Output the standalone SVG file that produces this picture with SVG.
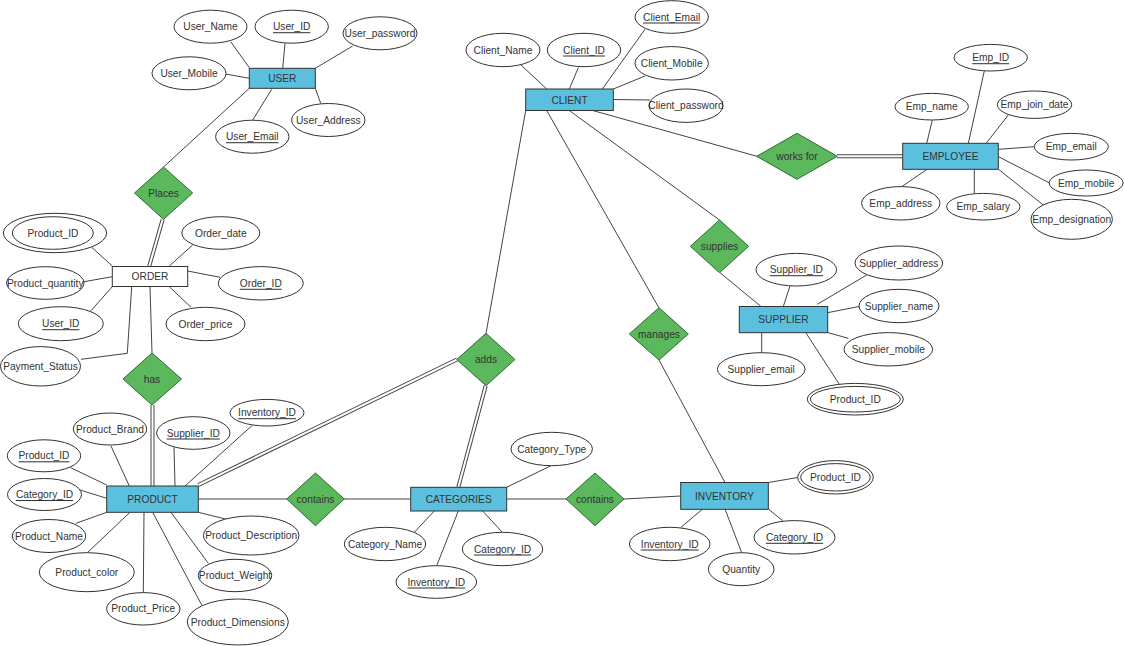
<svg xmlns="http://www.w3.org/2000/svg" width="1124" height="646" viewBox="0 0 1124 646">
<style>
text{font-family:"Liberation Sans",Arial,sans-serif;font-size:10.2px;fill:#333;text-anchor:middle;dominant-baseline:central}
.u{text-decoration:underline}
.ent{fill:#5bc0de;stroke:#333;stroke-width:1}
.wk{fill:#fff;stroke:#333;stroke-width:1}
.rel{fill:#5cb85c;stroke:#2f6b2f;stroke-width:1}
.att{fill:#fff;stroke:#333;stroke-width:1}
.ln{stroke:#444;stroke-width:1;fill:none}
.dbo{stroke:#444;stroke-width:4;fill:none}
.dbi{stroke:#fff;stroke-width:2;fill:none}
</style>
<rect width="1124" height="646" fill="#fff"/>
<g id="connectors">
<!-- USER -->
<line class="ln" x1="230.7" y1="41.7" x2="249.3" y2="67.7"/>
<line class="ln" x1="285" y1="43.3" x2="282.7" y2="68.3"/>
<line class="ln" x1="352.7" y1="46" x2="315.3" y2="68.3"/>
<line class="ln" x1="225.7" y1="74" x2="249.3" y2="78.3"/>
<line class="ln" x1="320.7" y1="103.3" x2="315.3" y2="88.3"/>
<line class="ln" x1="252.7" y1="120" x2="271.7" y2="89.3"/>
<line class="ln" x1="249.3" y1="88.3" x2="163.5" y2="167"/>
<!-- ORDER -->
<line class="dbo" x1="162.7" y1="219.3" x2="149.3" y2="266"/>
<line class="dbi" x1="162.7" y1="219.3" x2="149.3" y2="266"/>
<line class="ln" x1="91.7" y1="247.3" x2="112.3" y2="266"/>
<line class="ln" x1="192.7" y1="245" x2="169.3" y2="266"/>
<line class="ln" x1="187.7" y1="271" x2="220" y2="277.3"/>
<line class="ln" x1="84" y1="281.7" x2="112.3" y2="276.7"/>
<line class="ln" x1="90.7" y1="311" x2="112.3" y2="286.7"/>
<line class="ln" x1="169.3" y1="286.7" x2="191" y2="307.3"/>
<polyline class="ln" points="81,359.3 127.3,353.3 131.7,286.7"/>
<line class="ln" x1="150" y1="286.7" x2="152" y2="353"/>
<!-- PRODUCT -->
<line class="dbo" x1="152.5" y1="405" x2="152.5" y2="486"/>
<line class="dbi" x1="152.5" y1="405" x2="152.5" y2="486"/>
<line class="ln" x1="111" y1="446" x2="129.3" y2="486"/>
<line class="ln" x1="70.7" y1="467.7" x2="106.7" y2="485"/>
<line class="ln" x1="80" y1="490" x2="106.7" y2="498.3"/>
<line class="ln" x1="76" y1="523.3" x2="106.7" y2="512.3"/>
<line class="ln" x1="87.3" y1="552.7" x2="130" y2="512.3"/>
<line class="ln" x1="143.3" y1="592.7" x2="144" y2="512.3"/>
<line class="ln" x1="201.7" y1="605" x2="152.7" y2="512.3"/>
<line class="ln" x1="208.3" y1="563.3" x2="171" y2="512.3"/>
<line class="ln" x1="226.7" y1="519.3" x2="198.3" y2="512.3"/>
<line class="ln" x1="174" y1="447.3" x2="175" y2="486"/>
<line class="ln" x1="252.3" y1="425.3" x2="185" y2="486"/>
<line class="dbo" x1="198.3" y1="485" x2="457" y2="359.5"/>
<line class="dbi" x1="198.3" y1="485" x2="457" y2="359.5"/>
<line class="ln" x1="198.5" y1="499" x2="287" y2="499"/>
<!-- CATEGORIES -->
<line class="ln" x1="344" y1="499" x2="411" y2="499"/>
<line class="dbo" x1="485.7" y1="385.7" x2="458.3" y2="487.3"/>
<line class="dbi" x1="485.7" y1="385.7" x2="458.3" y2="487.3"/>
<line class="ln" x1="551" y1="465.7" x2="506.7" y2="487.3"/>
<line class="ln" x1="414.3" y1="532.3" x2="434.3" y2="511"/>
<line class="ln" x1="436.7" y1="565.7" x2="458.3" y2="511"/>
<line class="ln" x1="502.3" y1="532.3" x2="482.7" y2="511"/>
<line class="ln" x1="507" y1="499" x2="566" y2="499"/>
<!-- INVENTORY -->
<line class="ln" x1="624" y1="499" x2="681" y2="496"/>
<line class="ln" x1="768.3" y1="482.5" x2="799" y2="477.3"/>
<line class="ln" x1="681" y1="527.3" x2="702.7" y2="509"/>
<line class="ln" x1="741.7" y1="552.7" x2="725" y2="509"/>
<line class="ln" x1="782.7" y1="520.7" x2="768.3" y2="509"/>
<line class="ln" x1="725" y1="482.5" x2="659" y2="360"/>
<!-- CLIENT -->
<line class="ln" x1="521" y1="65" x2="546.7" y2="89"/>
<line class="ln" x1="578.3" y1="67.7" x2="569.3" y2="89"/>
<line class="ln" x1="645" y1="29.3" x2="602.3" y2="89"/>
<line class="ln" x1="645" y1="76" x2="613.3" y2="89"/>
<line class="ln" x1="613.3" y1="99.5" x2="650" y2="100"/>
<line class="ln" x1="525.7" y1="110.5" x2="486" y2="333.5"/>
<line class="ln" x1="546.7" y1="110.5" x2="659" y2="308"/>
<line class="ln" x1="569.3" y1="110.5" x2="719.5" y2="220"/>
<line class="ln" x1="592.7" y1="110.5" x2="757" y2="156.3"/>
<!-- EMPLOYEE -->
<line class="dbo" x1="837" y1="156.3" x2="903" y2="156.3"/>
<line class="dbi" x1="837" y1="156.3" x2="903" y2="156.3"/>
<line class="ln" x1="984.3" y1="71" x2="968.3" y2="143.5"/>
<line class="ln" x1="932.3" y1="120" x2="926.7" y2="143.5"/>
<line class="ln" x1="1008.3" y1="115" x2="986" y2="143.5"/>
<line class="ln" x1="998.5" y1="149.3" x2="1034.3" y2="146.7"/>
<line class="ln" x1="998.5" y1="156.7" x2="1049" y2="182.7"/>
<line class="ln" x1="998.5" y1="169.3" x2="1043.3" y2="205"/>
<line class="ln" x1="974.3" y1="193.3" x2="974.3" y2="169.5"/>
<line class="ln" x1="901.7" y1="186.7" x2="926.7" y2="169.5"/>
<!-- SUPPLIER -->
<line class="ln" x1="720" y1="272.7" x2="761" y2="306.5"/>
<line class="ln" x1="790" y1="286" x2="783.3" y2="306.5"/>
<line class="ln" x1="866.7" y1="275" x2="817.3" y2="304.3"/>
<line class="ln" x1="827.5" y1="312.7" x2="859" y2="306.5"/>
<line class="ln" x1="827.5" y1="332.5" x2="848.3" y2="338.3"/>
<line class="ln" x1="761.7" y1="352.7" x2="761.7" y2="332.5"/>
<line class="ln" x1="805.7" y1="332.5" x2="839.3" y2="384.3"/>
</g>
<g id="user">
<rect class="ent" x="249.3" y="68.3" width="66" height="20"/>
<text x="282.3" y="78.3">USER</text>
</g>
<g id="user_name"><ellipse class="att" cx="210.5" cy="26.7" rx="36.5" ry="16.5"/><text x="210.5" y="26.7">User_Name</text></g>
<g id="user_id"><ellipse class="att" cx="291.7" cy="26.7" rx="36.7" ry="16.5"/><text class="u" x="291.7" y="26.7">User_ID</text></g>
<g id="user_password"><ellipse class="att" cx="380" cy="33.3" rx="37" ry="16.5"/><text x="380" y="33.3">User_password</text></g>
<g id="user_mobile"><ellipse class="att" cx="189" cy="73.3" rx="37" ry="16.5"/><text x="189" y="73.3">User_Mobile</text></g>
<g id="user_address"><ellipse class="att" cx="328.3" cy="120" rx="36.7" ry="16.5"/><text x="328.3" y="120">User_Address</text></g>
<g id="user_email"><ellipse class="att" cx="252.3" cy="136.7" rx="36.7" ry="16.5"/><text class="u" x="252.3" y="136.7">User_Email</text></g>
<g id="places"><polygon class="rel" points="163.5,167 192.7,193 163.5,219.3 134.5,193"/><text x="163.5" y="193">Places</text></g>
<g id="order">
<rect class="wk" x="112.3" y="266.5" width="75.4" height="20"/>
<text x="150" y="276.5">ORDER</text>
</g>
<g id="order_product_id"><ellipse class="att" cx="55" cy="233" rx="51.7" ry="19.7"/><ellipse class="att" cx="52.8" cy="233" rx="40.5" ry="16.3"/><text x="53" y="233">Product_ID</text></g>
<g id="order_date"><ellipse class="att" cx="220.8" cy="233" rx="39" ry="16.3"/><text x="220.8" y="233">Order_date</text></g>
<g id="order_id"><ellipse class="att" cx="260.8" cy="283.3" rx="42.5" ry="16.7"/><text class="u" x="260.8" y="283.3">Order_ID</text></g>
<g id="order_price"><ellipse class="att" cx="205.5" cy="324" rx="39.5" ry="16.7"/><text x="205.5" y="324">Order_price</text></g>
<g id="product_quantity"><ellipse class="att" cx="45.3" cy="283" rx="38.7" ry="16.3"/><text x="45.3" y="283">Product_quantity</text></g>
<g id="order_user_id"><ellipse class="att" cx="60.8" cy="323.7" rx="42.5" ry="17"/><text class="u" x="60.8" y="323.7">User_ID</text></g>
<g id="payment_status"><ellipse class="att" cx="40.5" cy="366.3" rx="40" ry="19.7"/><text x="40.5" y="366.3">Payment_Status</text></g>
<g id="has"><polygon class="rel" points="152,353 181.5,379 152,405 123,379"/><text x="152" y="379">has</text></g>
<g id="product">
<rect class="ent" x="106.7" y="486" width="91.6" height="26.3"/>
<text x="152.5" y="499">PRODUCT</text>
</g>
<g id="product_brand"><ellipse class="att" cx="110" cy="429" rx="36.7" ry="16"/><text x="110" y="429">Product_Brand</text></g>
<g id="product_id"><ellipse class="att" cx="44" cy="455.8" rx="36.7" ry="16"/><text class="u" x="44" y="455.8">Product_ID</text></g>
<g id="product_category_id"><ellipse class="att" cx="44.5" cy="494.5" rx="37" ry="16"/><text class="u" x="44.5" y="494.5">Category_ID</text></g>
<g id="product_name"><ellipse class="att" cx="49" cy="536" rx="36.7" ry="16.5"/><text x="49" y="536">Product_Name</text></g>
<g id="product_color"><ellipse class="att" cx="86.8" cy="572.2" rx="47.5" ry="19.5"/><text x="86.8" y="572.2">Product_color</text></g>
<g id="product_price"><ellipse class="att" cx="143.3" cy="608.8" rx="36.7" ry="16.2"/><text x="143.3" y="608.8">Product_Price</text></g>
<g id="product_dimensions"><ellipse class="att" cx="237.8" cy="622" rx="50.5" ry="23"/><text x="237.8" y="622">Product_Dimensions</text></g>
<g id="product_weight"><ellipse class="att" cx="235" cy="575.5" rx="36.7" ry="16.2"/><text x="235" y="575.5">Product_Weight</text></g>
<g id="product_description"><ellipse class="att" cx="251.2" cy="535.5" rx="47.8" ry="19.5"/><text x="251.2" y="535.5">Product_Description</text></g>
<g id="product_supplier_id"><ellipse class="att" cx="193.3" cy="433" rx="36.7" ry="16.3"/><text class="u" x="193.3" y="433">Supplier_ID</text></g>
<g id="product_inventory_id"><ellipse class="att" cx="267" cy="412.7" rx="37" ry="13.3"/><text class="u" x="267" y="412.7">Inventory_ID</text></g>
<g id="contains1"><polygon class="rel" points="315.5,473 344.3,499 315.5,525.7 286.7,499"/><text x="315.5" y="499">contains</text></g>
<g id="adds"><polygon class="rel" points="486,333.3 515,359.5 486,385.7 456.7,359.5"/><text x="486" y="359.5">adds</text></g>
<g id="categories">
<rect class="ent" x="410.7" y="487.3" width="96" height="23.7"/>
<text x="458.7" y="499">CATEGORIES</text>
</g>
<g id="category_type"><ellipse class="att" cx="551.7" cy="449" rx="40.7" ry="16.7"/><text x="551.7" y="449">Category_Type</text></g>
<g id="category_name"><ellipse class="att" cx="385" cy="544" rx="40.7" ry="16.7"/><text x="385" y="544">Category_Name</text></g>
<g id="categories_inventory_id"><ellipse class="att" cx="436.3" cy="582" rx="40.3" ry="16.3"/><text class="u" x="436.3" y="582">Inventory_ID</text></g>
<g id="category_id"><ellipse class="att" cx="502.5" cy="549" rx="40.2" ry="16.7"/><text class="u" x="502.5" y="549">Category_ID</text></g>
<g id="contains2"><polygon class="rel" points="595,473 624,499 595,525.7 566,499"/><text x="595" y="499">contains</text></g>
<g id="inventory">
<rect class="ent" x="680.7" y="482.5" width="87.6" height="26.8"/>
<text x="724.5" y="496">INVENTORY</text>
</g>
<g id="inventory_product_id"><ellipse class="att" cx="835.5" cy="477.3" rx="37.8" ry="16.7"/><ellipse class="att" cx="835.5" cy="477.3" rx="34.8" ry="13.7"/><text x="835.5" y="477.3">Product_ID</text></g>
<g id="inventory_id"><ellipse class="att" cx="669.7" cy="544" rx="40.3" ry="16.7"/><text class="u" x="669.7" y="544">Inventory_ID</text></g>
<g id="quantity"><ellipse class="att" cx="741.2" cy="569.2" rx="32.8" ry="16.5"/><text x="741.2" y="569.2">Quantity</text></g>
<g id="inventory_category_id"><ellipse class="att" cx="794.5" cy="537.3" rx="40.5" ry="16.7"/><text class="u" x="794.5" y="537.3">Category_ID</text></g>
<g id="manages"><polygon class="rel" points="659,307.7 688.3,334 659,360 629.3,334"/><text x="659" y="334">manages</text></g>
<g id="client">
<rect class="ent" x="525.7" y="89" width="87.6" height="21.5"/>
<text x="569.5" y="100">CLIENT</text>
</g>
<g id="client_name"><ellipse class="att" cx="503" cy="50" rx="37" ry="16.7"/><text x="503" y="50">Client_Name</text></g>
<g id="client_id"><ellipse class="att" cx="584" cy="50" rx="36.7" ry="16.7"/><text class="u" x="584" y="50">Client_ID</text></g>
<g id="client_email"><ellipse class="att" cx="671.7" cy="17" rx="36.7" ry="16.3"/><text class="u" x="671.7" y="17">Client_Email</text></g>
<g id="client_mobile"><ellipse class="att" cx="671.7" cy="63.3" rx="36.7" ry="16.7"/><text x="671.7" y="63.3">Client_Mobile</text></g>
<g id="client_password"><ellipse class="att" cx="686" cy="105.7" rx="37" ry="16.7"/><text x="686" y="105.7">Client_password</text></g>
<g id="works_for"><polygon class="rel" points="797,133.3 837.3,156.3 797,179.3 756.7,156.3"/><text x="797" y="156.3">works for</text></g>
<g id="supplies"><polygon class="rel" points="719.5,220 748.7,246.3 719.5,272.7 690.3,246.3"/><text x="719.5" y="246.3">supplies</text></g>
<g id="employee">
<rect class="ent" x="902.7" y="143.3" width="95.6" height="26"/>
<text x="950.5" y="156.5">EMPLOYEE</text>
</g>
<g id="emp_id"><ellipse class="att" cx="990.7" cy="57.7" rx="36.7" ry="13.3"/><text class="u" x="990.7" y="57.7">Emp_ID</text></g>
<g id="emp_name"><ellipse class="att" cx="931.7" cy="106.7" rx="36.7" ry="13.3"/><text x="931.7" y="106.7">Emp_name</text></g>
<g id="emp_join_date"><ellipse class="att" cx="1034.5" cy="104.7" rx="37.2" ry="13.7"/><text x="1034.5" y="104.7">Emp_join_date</text></g>
<g id="emp_email"><ellipse class="att" cx="1071.3" cy="146.7" rx="37" ry="13.3"/><text x="1071.3" y="146.7">Emp_email</text></g>
<g id="emp_mobile"><ellipse class="att" cx="1086.2" cy="183" rx="37" ry="13"/><text x="1086.2" y="183">Emp_mobile</text></g>
<g id="emp_designation"><ellipse class="att" cx="1071.7" cy="219.3" rx="40.7" ry="20"/><text x="1071.7" y="219.3">Emp_designation</text></g>
<g id="emp_salary"><ellipse class="att" cx="983.3" cy="206.7" rx="36.7" ry="13.3"/><text x="983.3" y="206.7">Emp_salary</text></g>
<g id="emp_address"><ellipse class="att" cx="900.8" cy="203.3" rx="39.2" ry="16.7"/><text x="900.8" y="203.3">Emp_address</text></g>
<g id="supplier">
<rect class="ent" x="739.3" y="306.5" width="88.4" height="26.2"/>
<text x="783.5" y="319.5">SUPPLIER</text>
</g>
<g id="supplier_id"><ellipse class="att" cx="796.3" cy="269.7" rx="40.3" ry="16.3"/><text class="u" x="796.3" y="269.7">Supplier_ID</text></g>
<g id="supplier_address"><ellipse class="att" cx="898.8" cy="263" rx="43.8" ry="17"/><text x="898.8" y="263">Supplier_address</text></g>
<g id="supplier_name"><ellipse class="att" cx="899" cy="306" rx="40" ry="16.7"/><text x="899" y="306">Supplier_name</text></g>
<g id="supplier_mobile"><ellipse class="att" cx="888.3" cy="349.3" rx="44.3" ry="16.7"/><text x="888.3" y="349.3">Supplier_mobile</text></g>
<g id="supplier_email"><ellipse class="att" cx="761.2" cy="369.2" rx="43.8" ry="16.5"/><text x="761.2" y="369.2">Supplier_email</text></g>
<g id="supplier_product_id"><ellipse class="att" cx="855.3" cy="399.2" rx="48" ry="15.8"/><ellipse class="att" cx="855.3" cy="399.2" rx="45" ry="12.8"/><text x="855.3" y="399.2">Product_ID</text></g>
</svg>
